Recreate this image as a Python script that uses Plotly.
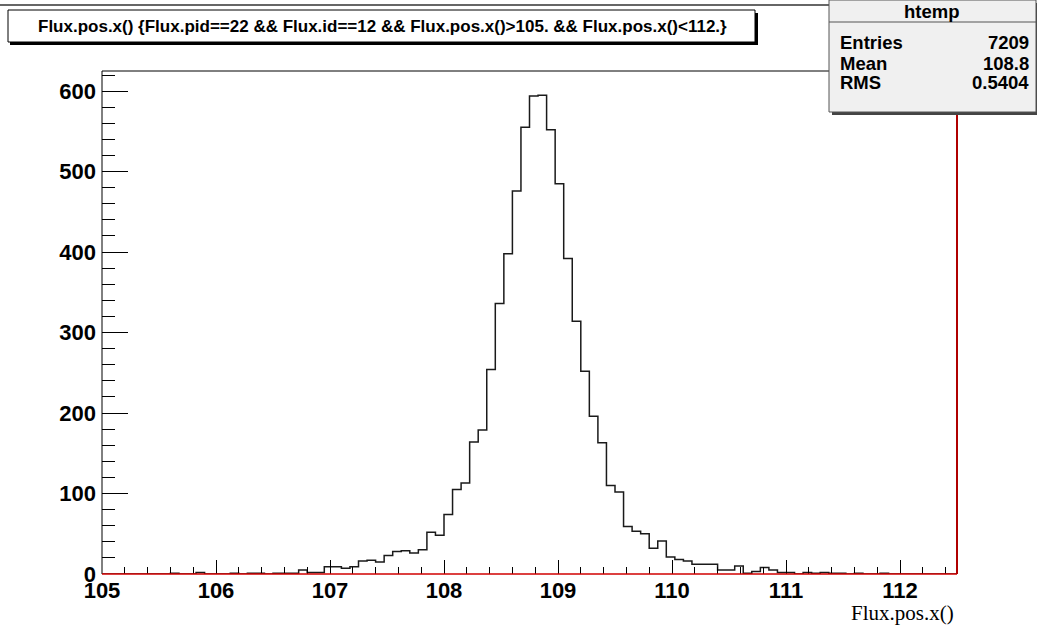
import numpy as np
import plotly.graph_objects as go

# ---------------- data ----------------
X_MIN = 105.0
X_MAX = 112.5
N_BINS = 100
counts = [
    0, 0, 0, 0, 0, 0, 0, 0, 1, 0,          # 0-9
    0, 2, 0, 0, 0, 1, 0, 1, 1, 0,          # 10-19
    1, 1, 1, 5, 2, 2, 9, 9, 7, 9,          # 20-29
    16, 17, 15, 23, 28, 29, 26, 30, 52, 48,  # 30-39
    74, 105, 113, 164, 179, 254, 336, 398, 476, 555,  # 40-49
    594, 595, 552, 485, 392, 314, 252, 196, 163, 110,  # 50-59
    102, 59, 53, 50, 32, 41, 21, 18, 16, 12,  # 60-69
    12, 12, 5, 5, 10, 1, 3, 8, 5, 2,       # 70-79
    2, 0, 2, 1, 2, 1, 1, 0, 1, 0,          # 80-89
    0, 1, 0, 0, 0, 0, 0, 0, 0, 0,          # 90-99
]
x_tick_vals = [105, 106, 107, 108, 109, 110, 111, 112]
y_tick_vals = [0, 100, 200, 300, 400, 500, 600]
Y_MAX = 625
title_text = "Flux.pos.x() {Flux.pid==22 && Flux.id==12 && Flux.pos.x()>105. && Flux.pos.x()<112.}"
stats_name = "htemp"
stats_labels = ["Entries", "Mean", "RMS"]
stats_values = ["7209", "108.8", "0.5404"]
x_title = "Flux.pos.x()"

# ---------------- layout geometry ----------------
W, H = 1037, 628
L, R, T, B = 102, 957, 71, 574


def px(x):
    return (x - L) / (R - L)


def py(y):
    return (B - y) / (B - T)


edges = np.linspace(X_MIN, X_MAX, N_BINS + 1)
xs = list(edges)
ys = list(counts) + [counts[-1]]

fig = go.Figure()
fig.add_trace(go.Scatter(
    x=[X_MIN] + xs + [X_MAX], y=[0] + ys + [0],
    mode="lines", line=dict(color="#1a1a1a", width=1.5, shape="hv"),
    hoverinfo="skip", showlegend=False,
))

SANS = "Liberation Sans, Arial, sans-serif"
bold = dict(family=SANS, size=22, color="black", weight="bold")

fig.update_layout(
    width=W, height=H, autosize=False,
    margin=dict(l=L, r=W - R, t=T, b=H - B, pad=0),
    paper_bgcolor="white", plot_bgcolor="white",
    showlegend=False,
    xaxis=dict(
        range=[X_MIN, X_MAX], showgrid=False, zeroline=False, showline=False,
        tickmode="array", tickvals=x_tick_vals, ticktext=[str(v) for v in x_tick_vals],
        ticks="inside", ticklen=14, tickwidth=1, tickcolor="black",
        tickfont=bold, ticklabelstandoff=1,
        minor=dict(dtick=0.2, tick0=X_MIN, ticks="inside", ticklen=7, tickwidth=1, tickcolor="black", showgrid=False),
    ),
    yaxis=dict(
        range=[0, Y_MAX], showgrid=False, zeroline=False, showline=False,
        tickmode="array", tickvals=y_tick_vals, ticktext=[str(v) for v in y_tick_vals],
        ticks="inside", ticklen=26, tickwidth=1, tickcolor="black",
        tickfont=bold, ticklabelstandoff=5,
        minor=dict(dtick=20, tick0=0, ticks="inside", ticklen=13, tickwidth=1, tickcolor="black", showgrid=False),
    ),
)

shapes = []
# canvas top border line
shapes.append(dict(type="line", xref="paper", yref="paper", x0=px(0), x1=px(W), y0=py(5), y1=py(5),
                   line=dict(color="#333", width=1.5)))
# frame
shapes.append(dict(type="line", xref="paper", yref="paper", x0=0, x1=px(829), y0=1, y1=1,
                   line=dict(color="black", width=1)))
shapes.append(dict(type="line", xref="paper", yref="paper", x0=0, x1=0, y0=0, y1=1,
                   line=dict(color="black", width=1)))
shapes.append(dict(type="line", xref="paper", yref="paper", x0=0, x1=1, y0=0, y1=0,
                   line=dict(color="#d00000", width=1.5)))
shapes.append(dict(type="line", xref="paper", yref="paper", x0=1, x1=1, y0=0, y1=py(111.7),
                   line=dict(color="#b00000", width=2)))
# title box with shadow
shapes.append(dict(type="rect", xref="paper", yref="paper", x0=px(10), x1=px(758), y0=py(13), y1=py(45),
                   fillcolor="black", line=dict(width=0)))
shapes.append(dict(type="rect", xref="paper", yref="paper", x0=px(8), x1=px(755), y0=py(10), y1=py(42),
                   fillcolor="white", line=dict(color="black", width=1)))
# stats box with shadow
shapes.append(dict(type="rect", xref="paper", yref="paper", x0=px(832), x1=px(1039), y0=py(3), y1=py(115),
                   fillcolor="#444", line=dict(width=0)))
shapes.append(dict(type="rect", xref="paper", yref="paper", x0=px(829), x1=px(1036), y0=py(0), y1=py(112),
                   fillcolor="#f0f0f0", line=dict(color="#555", width=1)))
shapes.append(dict(type="line", xref="paper", yref="paper", x0=px(829), x1=px(1036), y0=py(22), y1=py(22),
                   line=dict(color="#555", width=1)))
for s in shapes:
    s["layer"] = "above"
fig.update_layout(shapes=shapes)

ann = []
ann.append(dict(text=title_text, xref="paper", yref="paper", x=px(382), y=py(26),
                xanchor="center", yanchor="middle", showarrow=False,
                font=dict(family=SANS, size=17, color="black", weight="bold")))
stat_font = dict(family=SANS, size=18.5, color="black", weight="bold")
ann.append(dict(text=stats_name, xref="paper", yref="paper", x=px(932), y=py(11),
                xanchor="center", yanchor="middle", showarrow=False, font=stat_font))
for i, (lab, val) in enumerate(zip(stats_labels, stats_values)):
    yy = 43 + 20 * i
    ann.append(dict(text=lab, xref="paper", yref="paper", x=px(838), y=py(yy),
                    xanchor="left", yanchor="middle", showarrow=False, font=stat_font))
    ann.append(dict(text=val, xref="paper", yref="paper", x=px(1031), y=py(yy),
                    xanchor="right", yanchor="middle", showarrow=False, font=stat_font))
ann.append(dict(text=x_title, xref="paper", yref="paper", x=px(956), y=py(613),
                xanchor="right", yanchor="middle", showarrow=False,
                font=dict(family="Liberation Serif, Times New Roman, serif", size=21, color="black")))
fig.update_layout(annotations=ann)

fig.write_html("out.html", config={"displayModeBar": False},
               post_script="document.body.style.margin='0px';")
